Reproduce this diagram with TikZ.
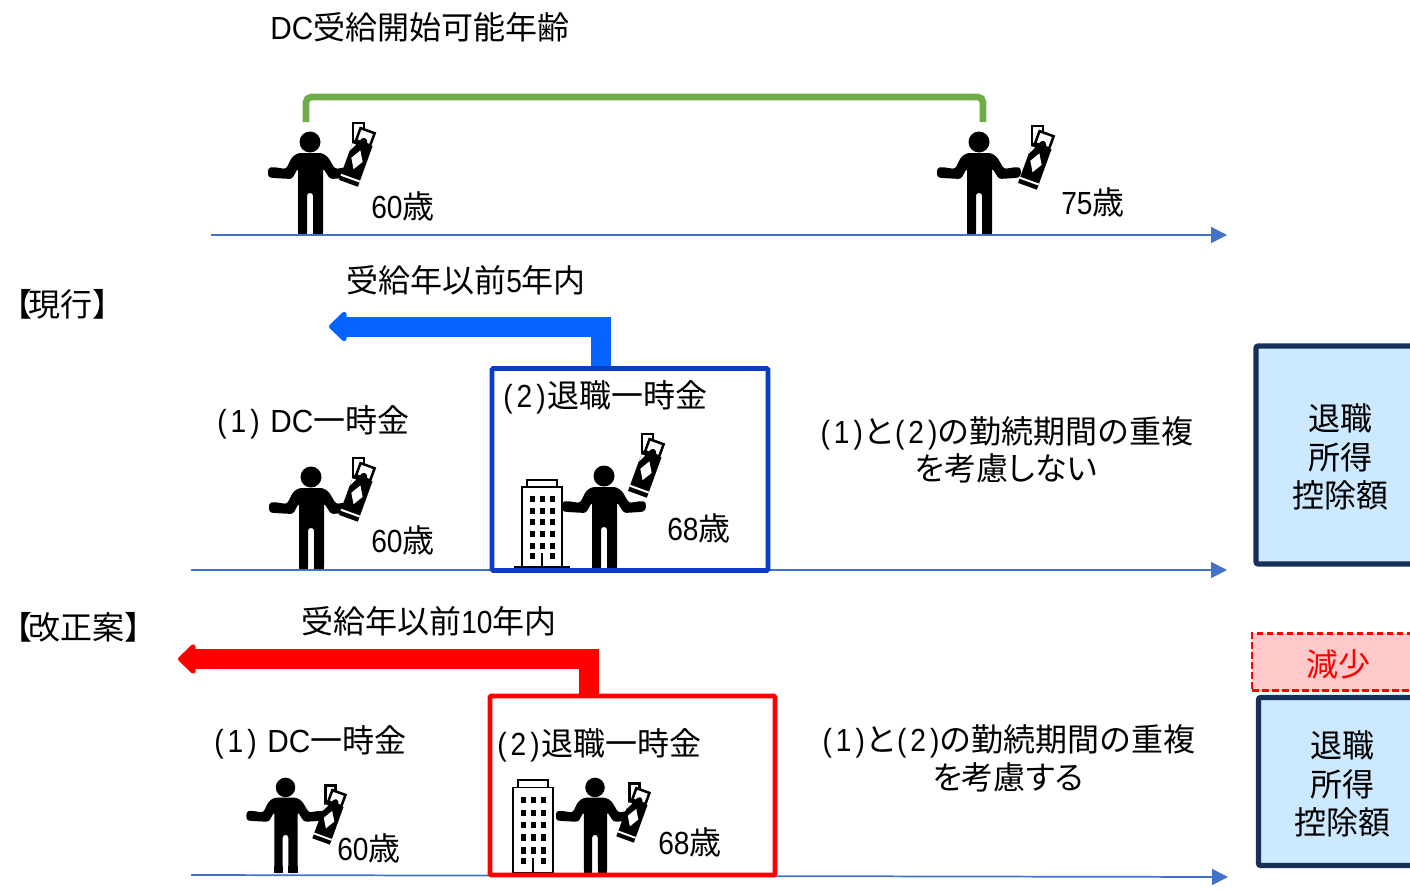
\documentclass[tikz,border=0pt]{standalone}
\usepackage{fontspec}
\usetikzlibrary{arrows.meta}
\setmainfont{Noto Sans CJK JP}
\newfontfamily\paltface[RawFeature=+palt]{Noto Sans CJK JP}
\newfontfamily\latinface[FakeStretch=0.88]{Liberation Sans}
\newfontfamily\dcface[FakeStretch=0.93]{Liberation Sans}
\newcommand{\lt}[1]{{\latinface #1}}
\newcommand{\dc}{{\dcface DC}}
\newcommand{\pa}[1]{\lt{(\hspace{3pt}#1\hspace{3pt})}}
\definecolor{axisblue}{HTML}{4472C4}
\definecolor{brgreen}{HTML}{70AD47}
\definecolor{framebl}{HTML}{0B3CC8}
\definecolor{arrowbl}{HTML}{0563FF}
\definecolor{panelbd}{HTML}{17305A}
\definecolor{panelfl}{HTML}{CCE9FF}
\definecolor{lossfl}{HTML}{FFC9C9}
\tikzset{
  txt/.style={inner sep=0pt,anchor=base west,yshift=.75pt,font=\fontsize{24}{24}\selectfont},
  ctxt/.style={inner sep=0pt,anchor=base,yshift=.75pt,font=\fontsize{24}{24}\selectfont},
  stack/.style={inner sep=0pt,align=center,font=\fontsize{24}{28.9}\selectfont},
  axisline/.style={axisblue,line width=1.3pt,-{Triangle[length=12pt,width=12pt]}},
  bigarrow/.style={line width=15pt,line join=miter,-{Triangle[round,length=14pt,width=26pt]}},
  framebox/.style={draw,line width=3.6pt,rounded corners=1pt,inner sep=0pt},
  panel/.style={draw=panelbd,fill=panelfl,line width=3.8pt,rounded corners=1.5pt,inner sep=0pt},
  ticket/.pic={
    \draw[fill=white,line width=1.9pt] (-5,-34) rectangle (6,-14);
    \begin{scope}[rotate=-20]
      \fill (-10,-15) rectangle (10,28);
      \draw[fill=white,line width=1.9pt] (-7.5,-28) rectangle (7.5,-15);
      \fill (-4,-15) .. controls (-3,-22) and (3,-22) .. (4,-15) -- cycle;
      \fill[white] (-10,-11) -- (-6,-11) -- (-10,-3) -- cycle;
      \fill[white] (0,-7) -- (6,3) -- (0,13) -- (-6,3) -- cycle;
      \fill[white] (-10,21.5) rectangle (10,23.5);
    \end{scope}
  },
  person/.pic={
    \fill (0,-92) circle (10.5);
    \fill[even odd rule,rounded corners=2pt]
      (-12,0) -- (-12,-66) -- (-18,-55) -- (-37,-56)
      .. controls (-43,-57) and (-43,-66) .. (-37,-67)
      -- (-24,-65) -- (-18,-77) -- (-12,-81) -- (12,-81) -- (18,-77) -- (25,-65)
      -- (37,-67) .. controls (43,-66) and (43,-57) .. (36,-56)
      -- (20,-55) -- (13,-66) -- (13,0) -- (3,0) -- (3,-41) -- (-3,-41) -- (-3,0) -- cycle;
    \fill (-12,-8) rectangle (-3,0);
    \fill (3,-8) rectangle (13,0);
  },
  office/.pic={
    \draw[fill=white,line width=1.3pt] (-15,-87) rectangle (15,-80);
    \draw[fill=white,line width=1.3pt] (-20,-80) rectangle (20,0);
    \foreach \wy in {-68,-56,-45,-33,-21} \foreach \wx in {-10,0,10}
      \fill (\wx-2.5,\wy-3) rectangle (\wx+2.5,\wy+3);
    \fill (-12.5,-14) rectangle (-7.5,-8);
    \fill (7.5,-14) rectangle (12.5,-8);
    \fill (-1.2,-14) rectangle (1.2,0);
  }
}
\begin{document}
\begin{tikzpicture}[x=0.75pt,y=-0.75pt]
\path[use as bounding box] (0,0) rectangle (1410,889);
\clip (0,0) rectangle (1410,889);
\fill[white] (0,0) rectangle (1410,889);

% axes
\coordinate (a1s) at (211,235); \coordinate (a1e) at (1227,235);
\coordinate (a2s) at (191,570); \coordinate (a2e) at (1227,570);
\coordinate (a3s) at (191,875); \coordinate (a3e) at (1228,877);
\draw[axisline] (a1s) -- (a1e);
\draw[axisline] (a2s) -- (a2e);
\draw[axisline] (a3s) -- (a3e);

% green bracket
\coordinate (brl) at (306,122); \coordinate (brr) at (983,122);
\draw[brgreen,line width=5pt,rounded corners=4pt] (brl) -- (306,97) -- (983,97) -- (brr);

% people
\pic (p1) at (310,234) {person};
\pic (t1) at (358,157) {ticket};
\pic (p2) at (979,234) {person};
\pic (t2) at (1037,160) {ticket};
\pic (p3) at (311,569) {person};
\pic (t3) at (358,492) {ticket};
\pic (p4) at (604,568) {person};
\pic (t4) at (647,468) {ticket};
\pic (b1) at (542,567) {office};
\coordinate (gl) at (514,567); \coordinate (gr) at (570,567);
\draw[line width=1.5pt] (gl) -- (gr);
\pic[scale=.93] (p5) at (285.5,873) {person};
\pic[scale=.93] (t5) at (330,817) {ticket};
\pic[scale=.93] (p6) at (595,873) {person};
\pic[scale=.93] (t6) at (634,815) {ticket};
\pic[yscale=1.07] (b2) at (533,873) {office};

% frames
\node[framebox,draw=framebl,minimum width=207pt,minimum height=151.5pt] (blueframe) at (630,469.5) {};
\node[framebox,draw=red,minimum width=213.75pt,minimum height=134.25pt] (redframe) at (632.5,785.5) {};

% thick arrows
\coordinate (bs) at (601,366); \coordinate (bt) at (329,326.5);
\draw[bigarrow,arrowbl] (bs) |- (bt);
\coordinate (rs) at (589,694); \coordinate (rt) at (178,659);
\draw[bigarrow,red] (rs) |- (rt);

% right panels
\node[panel,minimum width=126pt,minimum height=163.5pt] (panel1) at (1340,455) {};
\node[panel,minimum width=125.25pt,minimum height=126pt] (panel2) at (1342,781.5) {};
\node[draw=red,fill=lossfl,dash pattern=on 5pt off 2.5pt,line width=2.2pt,inner sep=0pt,minimum width=129pt,minimum height=43pt] (loss) at (1338,662) {};
\node[stack] (pt1) at (1340,457) {退職\\所得\\控除額};
\node[stack] (pt2) at (1342,784) {退職\\所得\\控除額};
\node[ctxt,text=red] (losst) at (1338,677) {減少};

% texts
\node[txt] (title) at (270,40) {\dc 受給開始可能年齢};
\node[txt] (age1) at (371,219) {\lt{60}歳};
\node[txt] (age2) at (1061,215) {\lt{75}歳};
\node[txt] (cur) at (0.5,317) {【\hspace{-3pt}現行】};
\node[txt] (y5) at (346,293) {受給年以前\lt{5}年内};
\node[txt] (dc1) at (217,433) {\pa{1}\hspace{8pt}\dc 一時金};
\node[txt] (rt1) at (503,408) {\pa{2}\hspace{1pt}退職一時金};
\node[txt] (age3) at (371,553) {\lt{60}歳};
\node[txt] (age4) at (667,541) {\lt{68}歳};
\node[ctxt] (n1a) at (1007,444) {\pa{1}と\pa{2}の勤続期間の重複};
\node[ctxt] (n1b) at (1006,481) {\paltface を考慮しない};
\node[txt] (prop) at (0.5,640) {【\hspace{-3pt}改正案】};
\node[txt] (y10) at (301,634) {受給年以前\lt{10}年内};
\node[txt] (dc2) at (214,753) {\pa{1}\hspace{8pt}\dc 一時金};
\node[txt] (rt2) at (497,756) {\pa{2}\hspace{1pt}退職一時金};
\node[txt] (age5) at (337,861) {\lt{60}歳};
\node[txt] (age6) at (658,855) {\lt{68}歳};
\node[ctxt] (n2a) at (1009,752) {\pa{1}と\pa{2}の勤続期間の重複};
\node[ctxt] (n2b) at (1008,790) {\paltface を考慮する};
\end{tikzpicture}
\end{document}
